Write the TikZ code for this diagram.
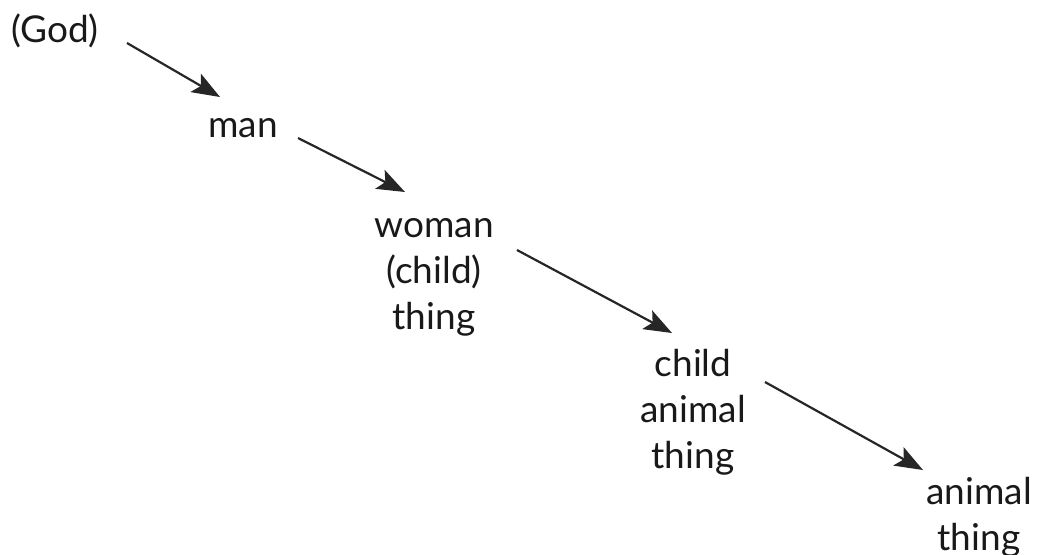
\documentclass[tikz,border=0pt]{standalone}
\usepackage{fontspec}
\setmainfont{Lato}
\usetikzlibrary{arrows.meta}
\begin{document}
\begin{tikzpicture}[x=0.5pt,y=-0.5pt,
  lbl/.style={font=\fontsize{18.5pt}{23pt}\selectfont, text=black!90, inner sep=0pt, align=center, anchor=base},
  arr/.style={draw=black!85, line width=1.1pt, -{Stealth[length=14pt,width=10.5pt,inset=3pt]}}]
\useasboundingbox (0,0) rectangle (1040,554);
% anchor=base of a multi-line node is the baseline of its last line
\node[lbl] (god) at (55,42) {(God)};
\node[lbl] (man) at (243,137) {man};
\node[lbl] (woman) at (434,329) {woman\\(child)\\thing};
\node[lbl] (child) at (693,468) {child\\animal\\thing};
\node[lbl] (animal) at (979,550) {animal\\thing};
\coordinate (a1s) at (127,43); \coordinate (a1e) at (220,97);
\coordinate (a2s) at (298,138); \coordinate (a2e) at (405,192);
\coordinate (a3s) at (517,250); \coordinate (a3e) at (672,333);
\coordinate (a4s) at (765,382); \coordinate (a4e) at (923,470);
\draw[arr] (a1s) -- (a1e);
\draw[arr] (a2s) -- (a2e);
\draw[arr] (a3s) -- (a3e);
\draw[arr] (a4s) -- (a4e);
\end{tikzpicture}
\end{document}
